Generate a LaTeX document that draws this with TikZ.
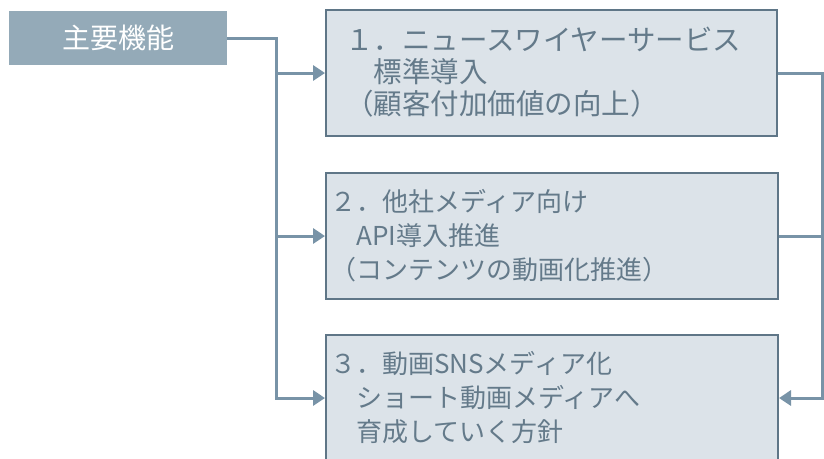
\documentclass[tikz,border=0pt]{standalone}
\usepackage{fontspec}
\setmainfont{Noto Sans CJK JP}
\usetikzlibrary{arrows.meta}
\definecolor{labelfill}{HTML}{94AAB8}
\definecolor{boxfill}{HTML}{DCE3E9}
\definecolor{boxline}{HTML}{5F7687}
\definecolor{connc}{HTML}{7893A7}
\definecolor{txt}{HTML}{647A8A}
\begin{document}
\begin{tikzpicture}[x=1pt,y=-1pt,
 labelbox/.style={fill=labelfill, text=white, minimum width=218pt, minimum height=54pt, inner sep=0pt, font=\fontsize{28}{30}\selectfont},
 itembox/.style={draw=boxline, line width=2pt, fill=boxfill, inner sep=0pt, minimum height=126pt},
 itemtext/.style={text=txt, align=left, anchor=west, inner sep=0pt},
 bigtext/.style={itemtext, font=\fontsize{28.5}{32}\selectfont},
 smalltext/.style={itemtext, font=\fontsize{26}{34}\selectfont},
 conn/.style={draw=connc, line width=3pt},
 arr/.style={conn, -{Triangle[length=12pt,width=15pt]}}]
\clip (0,0) rectangle (824,458);
\node[labelbox] (main) at (118,38) {主要機能};
\node[itembox, minimum width=451pt] (b1) at (551.5,73) {};
\node[itembox, minimum width=452pt] (b2) at (552,236) {};
\node[itembox, minimum width=452pt] (b3) at (552,398) {};
\node[bigtext] (t1) at (345,72) {１．ニュースワイヤーサービス\\　標準導入\\（顧客付加価値の向上）};
\node[smalltext] (t2) at (330,236) {２．他社メディア向け\\　API導入推進\\（コンテンツの動画化推進）};
\node[smalltext] (t3) at (330,398) {３．動画SNSメディア化\\　ショート動画メディアへ\\　育成していく方針};
\coordinate (jl) at (276,0);
\coordinate (jr) at (822,0);
\draw[arr] (main.east) -| (jl |- b3.west) -- (b3.west);
\draw[arr] (jl |- b1.west) -- (b1.west);
\draw[arr] (jl |- b2.west) -- (b2.west);
\draw[arr] (b1.east) -| (jr |- b3.east) -- (b3.east);
\draw[conn] (b2.east) -- (jr |- b2.east);
\end{tikzpicture}
\end{document}
